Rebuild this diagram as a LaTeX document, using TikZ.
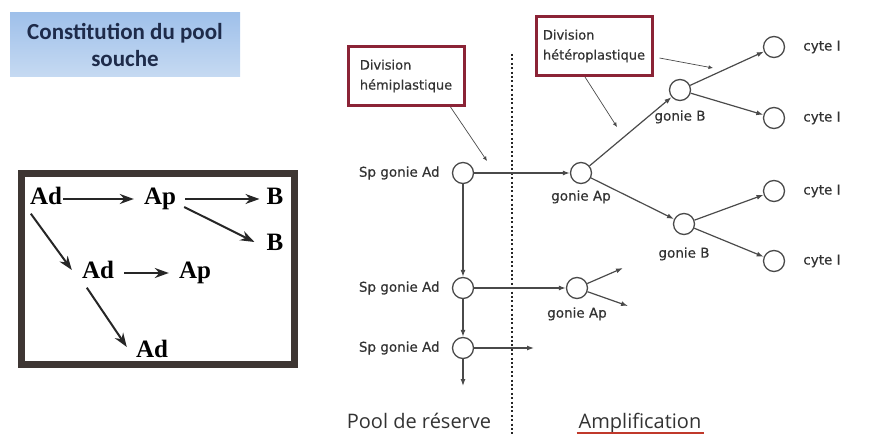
\documentclass[tikz,border=0pt]{standalone}
\usepackage{fontspec}
\setmainfont{DejaVu Sans}
\newfontfamily\tagfont{DejaVu Sans}[BoldFont={DejaVu Sans},BoldFeatures={FakeBold=0.5}]
\newfontfamily\titlefont{Carlito}
\newfontfamily\letterfont{Liberation Serif}
\newfontfamily\poolfont{Open Sans}
\usetikzlibrary{arrows.meta,positioning}
\definecolor{tagtext}{HTML}{333333}
\definecolor{linegray}{HTML}{4A4A4A}
\definecolor{boxred}{HTML}{8B2336}
\definecolor{arrowdark}{HTML}{262626}
\definecolor{framebrown}{HTML}{3E3633}
\definecolor{titleblue}{HTML}{1E2B4A}
\definecolor{topblue}{HTML}{9FC0EA}
\definecolor{bottomblue}{HTML}{C6DAF2}
\definecolor{ulred}{HTML}{C0392B}

\begin{document}
\begin{tikzpicture}[x=1pt, y=-1pt,
      every node/.style = {inner sep=2pt},
      titlebox/.style = {top color=topblue, bottom color=bottomblue, align=center,
        minimum width=230pt, minimum height=64pt, text=titleblue,
        font=\titlefont\bfseries\fontsize{23}{27}\selectfont},
      letter/.style = {inner sep=1pt, text height=16pt, text depth=5pt,
        font=\letterfont\bfseries\fontsize{25}{25}\selectfont},
      heavy/.style = {draw=arrowdark, line width=2pt, -{Stealth[length=14pt,width=10pt]}},
      cell/.style = {circle, draw=linegray, line width=1.3pt, fill=white,
        minimum size=21pt, inner sep=0pt},
      tag/.style = {text=tagtext, font=\tagfont\bfseries\fontsize{13.5}{16}\selectfont},
      flow/.style = {draw=linegray, line width=1.2pt, -{Latex[length=7pt,width=5pt]}},
      note/.style = {draw=boxred, line width=3pt, align=left, text=tagtext,
        minimum width=116pt, minimum height=59pt, font=\tagfont\bfseries\fontsize{13}{20}\selectfont},
      hint/.style = {draw=linegray, line width=0.7pt, -{Latex[length=4.5pt,width=4pt]}},
      bottomtxt/.style = {anchor=base, text=tagtext, font=\poolfont\fontsize{20}{24}\selectfont}]
  \useasboundingbox (0,0) rectangle (875,435);

  \node[titlebox] (title) at (125,45) {Constitution du pool\\souche};

  \draw[framebrown, line width=7pt] (21,174) rectangle (294,364);
  \node[letter] (ad1) at (46,199) {Ad};
  \node[letter] (ap1) at (160,199) {Ap};
  \node[letter] (b1) at (275,199) {B};
  \node[letter] (b2) at (275,245) {B};
  \node[letter] (ad2) at (98,273) {Ad};
  \node[letter] (ap2) at (195,273) {Ap};
  \node[letter] (ad3) at (152,352) {Ad};
  \draw[heavy, shorten >=9pt] (ad1) -- (ap1);
  \draw[heavy, shorten <=8pt, shorten >=6pt] (ap1) -- (b1);
  \draw[heavy] ([shift={(7,8)}]ap1.east) -- ([shift={(-11,-3)}]b2.west);
  \draw[heavy] ([shift={(2,3)}]ad1.south west) -- ([shift={(-9,-3)}]ad2.west);
  \draw[heavy, shorten <=9pt, shorten >=9pt] (ad2) -- (ap2);
  \draw[heavy] ([shift={(6,3)}]ad2.south west) -- ([shift={(-8,-5)}]ad3.west);

  \draw[arrowdark, line width=2.4pt, dash pattern=on 2pt off 2.4pt] (512,54) -- (512,435);

  \node[cell] (spA) at (463,173) {};
  \node[cell] (spB) at (463,288) {};
  \node[cell] (spC) at (463,348) {};
  \node[cell] (gAp1) at (581,173) {};
  \node[cell] (gAp2) at (577,288) {};
  \node[cell] (gB1) at (680,90) {};
  \node[cell] (gB2) at (684,224) {};
  \node[cell] (cy1) at (774,47) {};
  \node[cell] (cy2) at (774,118) {};
  \node[cell] (cy3) at (774,191) {};
  \node[cell] (cy4) at (774,261) {};

  \node[tag, left=10pt of spA] (spAt) {Sp gonie Ad};
  \node[tag, left=10pt of spB] (spBt) {Sp gonie Ad};
  \node[tag, left=10pt of spC] (spCt) {Sp gonie Ad};
  \node[tag, below=4pt of gAp1] (gAp1t) {gonie Ap};
  \node[tag, below=6pt of gAp2] (gAp2t) {gonie Ap};
  \node[tag, below=7pt of gB1] (gB1t) {gonie B};
  \node[tag, below=10pt of gB2] (gB2t) {gonie B};
  \node[tag, right=16pt of cy1] (cy1t) {cyte I};
  \node[tag, right=16pt of cy2] (cy2t) {cyte I};
  \node[tag, right=16pt of cy3] (cy3t) {cyte I};
  \node[tag, right=16pt of cy4] (cy4t) {cyte I};

  \coordinate (endC) at (463,386);
  \coordinate (endR) at (534,348);
  \coordinate (endU) at (623,268);
  \coordinate (endD) at (628,306);
  \draw[flow] (spA) -- (gAp1);
  \draw[flow] (spA) -- (spB);
  \draw[flow] (spB) -- (spC);
  \draw[flow] (spC) -- (endC);
  \draw[flow] (spB) -- (gAp2);
  \draw[flow] (spC) -- (endR);
  \draw[flow] (gAp2) -- (endU);
  \draw[flow] (gAp2) -- (endD);
  \draw[flow] (gAp1) -- (gB1);
  \draw[flow] (gAp1) -- (gB2);
  \draw[flow] (gB1) -- (cy1);
  \draw[flow] (gB1) -- (cy2);
  \draw[flow] (gB2) -- (cy3);
  \draw[flow] (gB2) -- (cy4);

  \node[note] (hemi) at (406,76) {Division\\hémiplastique};
  \node[note] (hetero) at (594,46) {Division\\hétéroplastique};
  \coordinate (hemiTip) at (487,161);
  \coordinate (heteroTipA) at (617,127);
  \coordinate (heteroTipB) at (713,68);
  \draw[hint] ([xshift=-15pt]hemi.south east) -- (hemiTip);
  \draw[hint] ([xshift=-9pt]hetero.south) -- (heteroTipA);
  \draw[hint] ([shift={(6,12)}]hetero.east) -- (heteroTipB);

  \node[bottomtxt] (pool) at (419,428) {Pool de réserve};
  \node[bottomtxt] (ampl) at (640,428) {Amplification};
  \draw[ulred, line width=1.5pt] ([yshift=-5pt]ampl.base west) -- ([yshift=-5pt]ampl.base east);
\end{tikzpicture}
\end{document}
